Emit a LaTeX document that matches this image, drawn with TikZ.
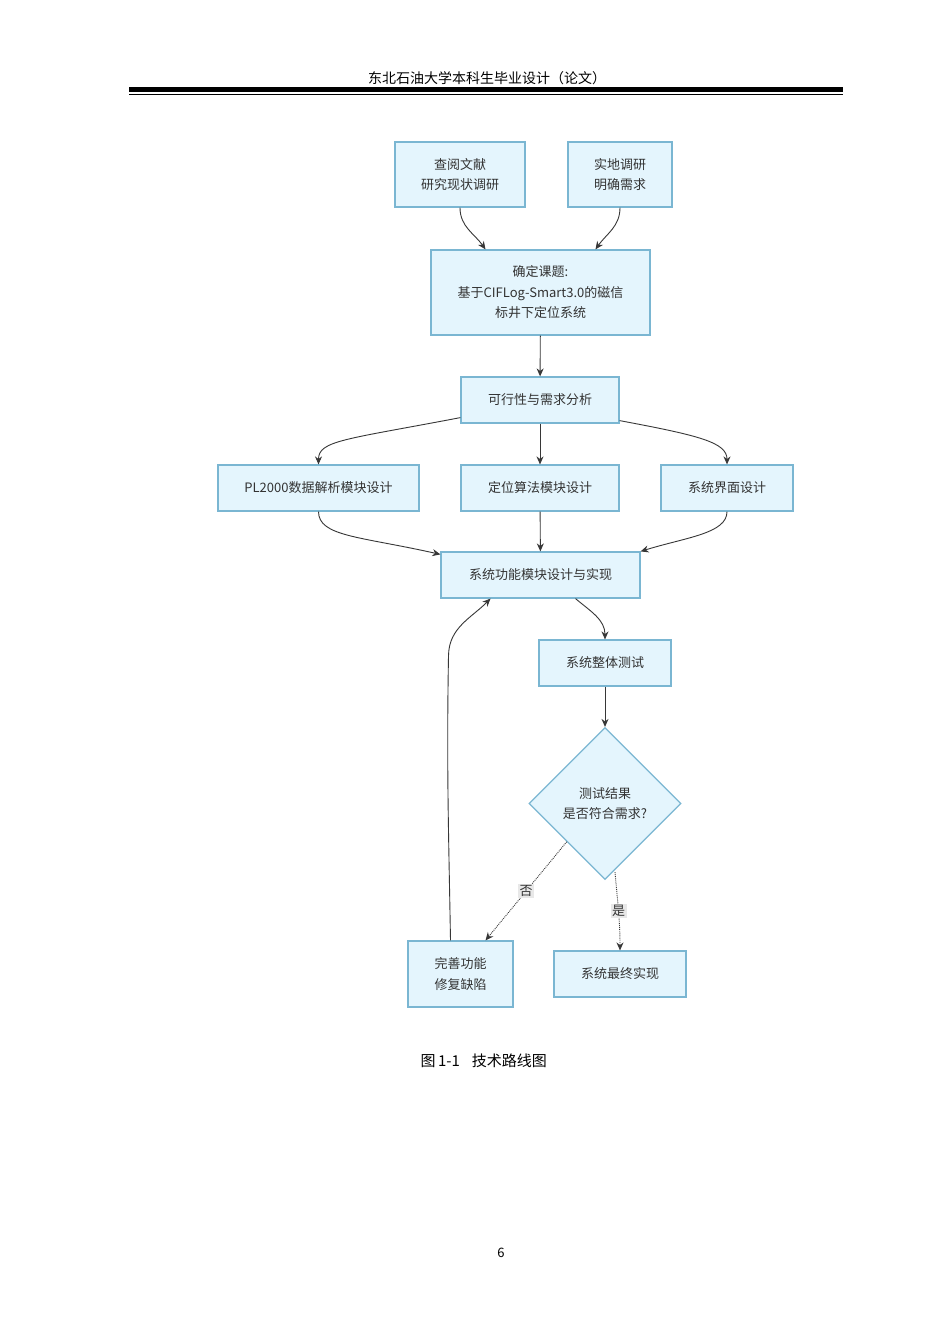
\documentclass[tikz,border=0pt]{standalone}
\usepackage{fontspec}
\setmainfont{Noto Sans CJK SC}
\usepackage{tikz}
\usetikzlibrary{shapes.geometric, arrows.meta, positioning, calc}
\definecolor{boxfill}{RGB}{228,245,253}
\definecolor{boxline}{RGB}{122,182,210}
\definecolor{arrowgray}{RGB}{55,55,55}
\definecolor{tagfill}{RGB}{232,232,232}
\tikzset{
  stepbox/.style={draw=boxline, fill=boxfill, line width=1.2pt, align=center, inner sep=0pt,
    font=\fontsize{13}{20.5}\selectfont, text=black!80},
  decision/.style={stepbox, diamond, aspect=1, minimum size=152pt},
  arr/.style={draw=arrowgray, line width=0.9pt, -{Stealth[length=8pt,width=7pt]}},
  dotarr/.style={arr, densely dotted},
  tag/.style={fill=tagfill, inner sep=1.5pt, font=\fontsize{13}{15}\selectfont, text=black!80}
}
\begin{document}
\begin{tikzpicture}[x=1pt, y=-1pt]
  \fill[white] (0,0) rectangle (950,1344);
  \useasboundingbox (0,0) rectangle (950,1344);

  % page header and footer
  \node[font=\fontsize{14}{16}\selectfont] (head) at (487,78) {东北石油大学本科生毕业设计（论文）};
  \fill[black] (129,87) rectangle (843,92);
  \fill[black] (129,93.5) rectangle (843,95);
  \node[font=\fontsize{13}{15}\selectfont] (pageno) at (501,1253) {6};

  % steps
  \node[stepbox, minimum width=130pt, minimum height=65pt] (lit) at (460,174.5) {查阅文献\\研究现状调研};
  \node[stepbox, minimum width=104pt, minimum height=65pt] (field) at (620,174.5) {实地调研\\明确需求};
  \node[stepbox, minimum width=219pt, minimum height=85pt] (topic) at (540.5,292.5) {确定课题:\\基于CIFLog-Smart3.0的磁信\\标井下定位系统};
  \node[stepbox, minimum width=158pt, minimum height=46pt] (analysis) at (540,400) {可行性与需求分析};
  \node[stepbox, minimum width=201pt, minimum height=46pt] (parse) at (318.5,488) {PL2000数据解析模块设计};
  \node[stepbox, minimum width=158pt, minimum height=46pt] (algo) at (540,488) {定位算法模块设计};
  \node[stepbox, minimum width=132pt, minimum height=46pt] (ui) at (727,488) {系统界面设计};
  \node[stepbox, minimum width=199pt, minimum height=46pt] (impl) at (540.5,575) {系统功能模块设计与实现};
  \node[stepbox, minimum width=132pt, minimum height=46pt] (test) at (605,663) {系统整体测试};
  \node[decision] (check) at (605,803.5) {测试结果\\是否符合需求?};
  \node[stepbox, minimum width=105pt, minimum height=66pt] (fix) at (460.5,974) {完善功能\\修复缺陷};
  \node[stepbox, minimum width=132pt, minimum height=46pt] (final) at (620,974) {系统最终实现};

  % caption
  \node[anchor=west, font=\fontsize{15}{17}\selectfont] (cap) at (417,1061) {图\,1-1\hspace{0.8em}技术路线图};

  % connectors
  \draw[arr] (lit.south) to[out=-90, in=125] ([xshift=-55pt]topic.north);
  \draw[arr] (field.south) to[out=-90, in=55] ([xshift=55pt]topic.north);
  \draw[arr] (topic) -- (analysis);
  \draw[arr] ([yshift=6pt]analysis.south west) .. controls +(-115,22) and +(0,-24) .. (parse.north);
  \draw[arr] (analysis) -- (algo);
  \draw[arr] ([yshift=3pt]analysis.south east) .. controls +(80,15) and +(0,-22) .. (ui.north);
  \draw[arr] (parse.south) .. controls +(0,25) and +(-80,-18) .. ([yshift=-3pt]impl.north west);
  \draw[arr] (algo) -- (impl);
  \draw[arr] (ui.south) .. controls +(0,22) and +(45,-14) .. (impl.north east);
  \draw[arr] ([xshift=35pt]impl.south) to[out=-40, in=90] (test.north);
  \draw[arr] (test) -- (check);
  \draw[dotarr] (check.south west) -- node[tag] {否} ([xshift=25pt]fix.north);
  \draw[dotarr] ([xshift=10pt,yshift=-1pt]check.south) ++(0,-9) to[out=-85, in=90] node[tag, pos=0.5] {是} (final.north);
  \draw[arr] ([xshift=-10pt]fix.north) to[out=91, in=-91] ++(-2,-285) to[out=89, in=-135] ([xshift=-50pt]impl.south);
\end{tikzpicture}
\end{document}
